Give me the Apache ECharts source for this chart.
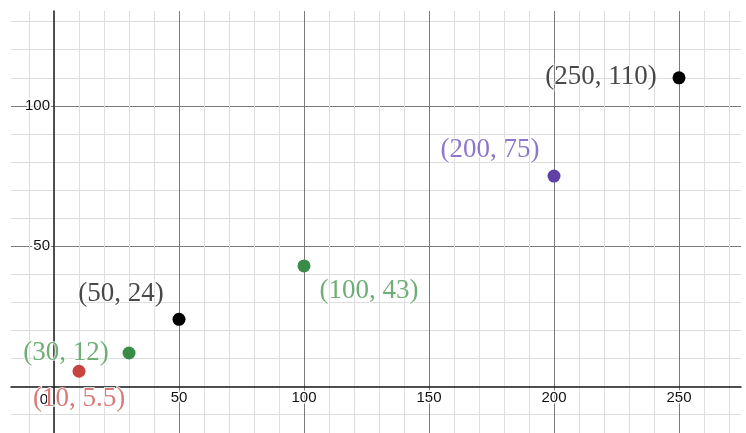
<!DOCTYPE html>
<html>
<head>
<meta charset="utf-8">
<script src="https://cdn.jsdelivr.net/npm/echarts@6/dist/echarts.min.js"></script>
<style>
html,body{margin:0;padding:0;background:#fff;}
#chart{width:746px;height:433px;}
</style>
</head>
<body>
<div id="chart"></div>
<script>
// ---- data ----
const pointX = [10, 30, 50, 100, 200, 250];
const pointY = [5.5, 12, 24, 43, 75, 110];
const pointLabels = ['(10, 5.5)', '(30, 12)', '(50, 24)', '(100, 43)', '(200, 75)', '(250, 110)'];
const xTickLabels = [50, 100, 150, 200, 250];
const yTickLabels = [50, 100];
const originLabel = '0';

// ---- styles ----
const pointColors = ['#c74440', '#388c46', '#000000', '#388c46', '#6042a6', '#000000'];
const labelColors = ['#d87a78', '#6fae77', '#484848', '#6fae77', '#8e76c8', '#484848'];
const labelOffsets = [[0, 28], [-63, 0], [-58, -25], [65, 25], [-64, -26], [-78, -1]];

const X_MIN = -17.2, X_MAX = 274.8;
const Y_MIN = -16.5, Y_MAX = 133.8;

const minorX = [], majorX = [], minorY = [], majorY = [];
for (let v = -10; v <= 270; v += 10) minorX.push(v);
for (let v = 50; v <= 250; v += 50) majorX.push(v);
for (let v = -10; v <= 130; v += 10) minorY.push(v);
for (let v = 50; v <= 100; v += 50) majorY.push(v);

const tickFont = {fontFamily: '"Liberation Sans", Arial, sans-serif', fontSize: 15, color: '#111', textBorderColor: '#fff', textBorderWidth: 3};

const chart = echarts.init(document.getElementById('chart'), null, {renderer: 'canvas'});

const data = pointX.map((x, i) => ({
  value: [x, pointY[i]],
  itemStyle: {color: pointColors[i], opacity: 1},
  label: {
    show: true,
    formatter: pointLabels[i],
    position: 'inside',
    offset: labelOffsets[i],
    color: labelColors[i],
    fontFamily: '"Liberation Serif", "Times New Roman", serif',
    fontSize: 27,
    textBorderColor: 'rgba(255,255,255,0.8)',
    textBorderWidth: 2
  }
}));

const xTickData = xTickLabels.map(v => ({value: [v, 0], label: {formatter: String(v), position: 'bottom', distance: 4}}));
const yTickData = yTickLabels.map(v => ({value: [0, v], label: {formatter: String(v), position: 'left', distance: 4}}));
const originData = [{value: [0, 0], label: {formatter: originLabel, position: 'inside', offset: [-10, 13]}}];

chart.setOption({
  backgroundColor: '#fff',
  animation: false,
  grid: {left: 11, right: 5, top: 11, bottom: 0, containLabel: false, outerBoundsMode: 'none'},
  xAxis: [
    {
      type: 'value', position: 'top', min: X_MIN, max: X_MAX,
      axisLine: {show: false, onZero: false},
      axisTick: {show: false, customValues: minorX},
      axisLabel: {show: false},
      splitLine: {show: true, lineStyle: {color: '#dedede', width: 1}}
    },
    {
      type: 'value', position: 'bottom', min: X_MIN, max: X_MAX,
      axisLine: {show: true, onZero: true, lineStyle: {color: '#1a1a1a', width: 1.5}},
      axisTick: {show: false, customValues: majorX},
      axisLabel: {show: false},
      splitLine: {show: true, lineStyle: {color: '#7a7a7a', width: 1}}
    }
  ],
  yAxis: [
    {
      type: 'value', position: 'right', min: Y_MIN, max: Y_MAX,
      axisLine: {show: false, onZero: false},
      axisTick: {show: false, customValues: minorY},
      axisLabel: {show: false},
      splitLine: {show: true, lineStyle: {color: '#dedede', width: 1}}
    },
    {
      type: 'value', position: 'left', min: Y_MIN, max: Y_MAX,
      axisLine: {show: true, onZero: true, lineStyle: {color: '#1a1a1a', width: 1.5}},
      axisTick: {show: false, customValues: majorY},
      axisLabel: {show: false},
      splitLine: {show: true, lineStyle: {color: '#7a7a7a', width: 1}}
    }
  ],
  series: [
    {
      type: 'scatter', name: 'ticks',
      xAxisIndex: 1, yAxisIndex: 1,
      symbolSize: 0, silent: true, z: 3,
      itemStyle: {opacity: 1},
      label: {show: true, ...tickFont},
      data: [...xTickData, ...yTickData, ...originData]
    },
    {
      type: 'scatter', name: 'points',
      xAxisIndex: 1, yAxisIndex: 1,
      symbol: 'circle', symbolSize: 13, z: 5,
      itemStyle: {opacity: 1},
      data: data
    }
  ]
});
</script>
</body>
</html>
